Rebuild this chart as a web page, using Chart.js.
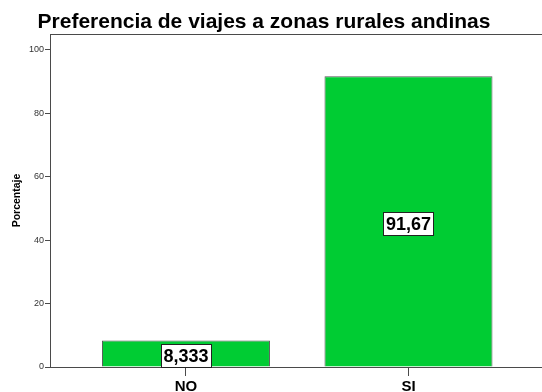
<!DOCTYPE html>
<html>
<head>
<meta charset="utf-8">
<script src="https://cdn.jsdelivr.net/npm/chart.js@4/dist/chart.umd.min.js"></script>
<style>
  html, body { margin: 0; padding: 0; background: #fff; }
  #wrap { width: 542px; height: 392px; }
</style>
</head>
<body>
<div id="wrap"><canvas id="barChart" width="542" height="392"></canvas></div>
<script>
const chartTitle = 'Preferencia de viajes a zonas rurales andinas';
const categories = ['NO', 'SI'];
const percentages = [8.333, 91.67];
const yTicks = [0, 20, 40, 60, 80, 100];
const yAxisLabel = 'Porcentaje';

const fontFamily = '"Liberation Sans", Arial, sans-serif';
const lineColor = '#4a4a4a';

// title drawn by hand so it can sit slightly left of center
const titlePlugin = {
    id: 'titleText',
    afterDraw(chart) {
        const ctx = chart.ctx;
        ctx.save();
        ctx.font = 'bold 21px ' + fontFamily;
        ctx.fillStyle = '#000';
        ctx.textAlign = 'center';
        ctx.textBaseline = 'alphabetic';
        ctx.fillText(chartTitle, 264, 28);
        ctx.restore();
    }
};

// top frame line of the plot area
const framePlugin = {
    id: 'frameTop',
    afterDraw(chart) {
        const a = chart.chartArea;
        const ctx = chart.ctx;
        ctx.save();
        ctx.strokeStyle = lineColor;
        ctx.lineWidth = 1;
        ctx.beginPath();
        ctx.moveTo(a.left, a.top + 0.5);
        ctx.lineTo(a.right, a.top + 0.5);
        ctx.stroke();
        ctx.restore();
    }
};

// boxed value labels in the middle of each bar
const valueBoxPlugin = {
    id: 'valueBoxes',
    afterDatasetsDraw(chart) {
        const ctx = chart.ctx;
        const meta = chart.getDatasetMeta(0);
        ctx.save();
        ctx.font = 'bold 18px ' + fontFamily;
        ctx.textAlign = 'center';
        ctx.textBaseline = 'middle';
        meta.data.forEach((bar, i) => {
            const text = String(percentages[i]).replace('.', ',');
            const w = Math.round(ctx.measureText(text).width + 5);
            const h = 23;
            const left = Math.round(bar.x - w / 2) + 0.5;
            const top = Math.round((bar.y + bar.base) / 2 + 2 - h / 2) + 0.5;
            ctx.fillStyle = '#fff';
            ctx.fillRect(left, top, w, h);
            ctx.strokeStyle = '#222';
            ctx.lineWidth = 1;
            ctx.strokeRect(left, top, w, h);
            ctx.fillStyle = '#000';
            ctx.fillText(text, bar.x, top + h / 2 + 1);
        });
        ctx.restore();
    }
};

new Chart(document.getElementById('barChart'), {
    type: 'bar',
    data: {
        datasets: [{
            data: percentages.map((v, i) => ({ x: i, y: v })),
            backgroundColor: 'rgb(0, 204, 51)',
            borderColor: '#555',
            borderWidth: 1,
            categoryPercentage: 1,
            barPercentage: 0.755
        }]
    },
    options: {
        responsive: false,
        animation: false,
        layout: { padding: { top: 34, left: 0, right: 0, bottom: 0 } },
        plugins: {
            legend: { display: false },
            tooltip: { enabled: false }
        },
        scales: {
            x: {
                type: 'linear',
                min: -0.611,
                max: 1.6,
                offset: false,
                afterBuildTicks: scale => {
                    scale.ticks = categories.map((c, i) => ({ value: i }));
                },
                afterFit: scale => { scale.height = 25; },
                border: { color: lineColor, width: 1 },
                grid: { offset: false, drawOnChartArea: false, tickLength: 9, color: lineColor },
                ticks: {
                    padding: 2,
                    color: '#000',
                    font: { family: fontFamily, size: 15, weight: 'bold' },
                    callback: v => categories[v]
                }
            },
            y: {
                min: 0,
                max: 105,
                afterBuildTicks: scale => {
                    scale.ticks = yTicks.map(v => ({ value: v }));
                },
                afterFit: scale => { scale.width = 50; },
                border: { color: lineColor, width: 1 },
                grid: { drawOnChartArea: false, tickLength: 5, color: lineColor },
                ticks: {
                    padding: 1,
                    color: '#333',
                    font: { family: fontFamily, size: 9 }
                },
                title: {
                    display: true,
                    text: yAxisLabel,
                    color: '#000',
                    padding: { top: 11, bottom: 0 },
                    font: { family: fontFamily, size: 10.5, weight: 'bold' }
                }
            }
        }
    },
    plugins: [titlePlugin, framePlugin, valueBoxPlugin]
});
</script>
</body>
</html>
